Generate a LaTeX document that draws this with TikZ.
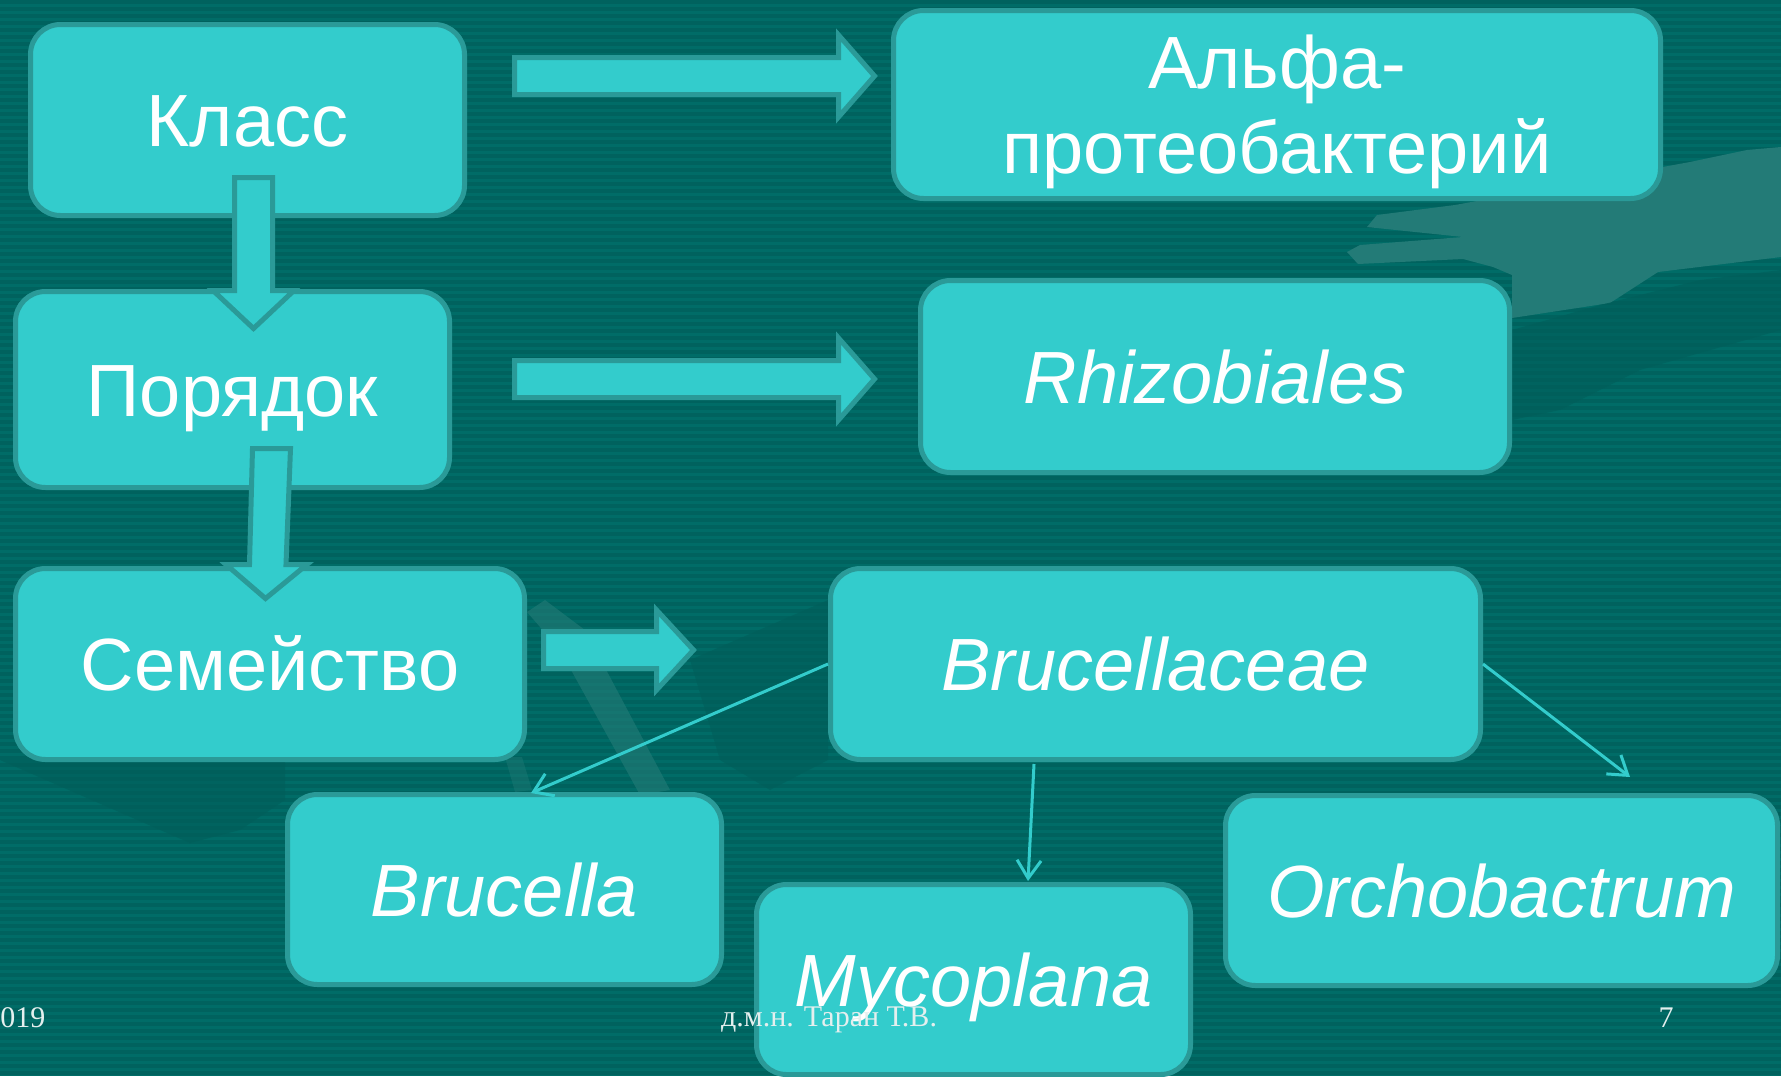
\documentclass[tikz,border=0pt]{standalone}
\usepackage{fontspec}
\setmainfont{Liberation Sans}
\newfontfamily\footfont{Liberation Serif}
\usetikzlibrary{arrows.meta}
\definecolor{bgA}{HTML}{006C67}
\definecolor{bgB}{HTML}{00625E}
\definecolor{bgDark}{HTML}{005E5A}
\definecolor{boxfill}{HTML}{33CCCC}
\definecolor{boxline}{HTML}{2A9A98}
\definecolor{handc}{HTML}{237B77}
\definecolor{foottext}{HTML}{E4EFEE}
\tikzset{
  taxbox/.style={draw=boxline, fill=boxfill, line width=2.5pt, rounded corners=15pt,
    text=white, font=\fontsize{37}{42.5}\selectfont, inner sep=0pt, align=center},
  onel/.style={text height=26.5pt, text depth=0pt},
  blockarrow/.style={draw=boxline, fill=boxfill, line width=2.5pt, line join=miter},
  thinarrow/.style={draw=boxfill, line width=1.5pt, -{Straight Barb[length=9pt,width=12pt]}},
  footer/.style={text=foottext, font=\footfont\fontsize{15}{18}\selectfont, inner sep=0pt}
}
\begin{document}
\begin{tikzpicture}[x=0.5pt,y=-0.5pt]
\useasboundingbox (0,0) rectangle (1781,1076);
% background
\fill[bgA] (0,0) rectangle (1781,1076);
\foreach \i in {0,...,153} \fill[bgB] (0,\i*7) rectangle (1781,\i*7+3.5);
% decorative shapes
\fill[handc] (1367,227) -- (1377,215) -- (1455,205) -- (1690,162) -- (1747,150) -- (1781,147)
  -- (1781,257) -- (1658,272) -- (1610,303) -- (1512,318) -- (1512,275) -- (1493,267)
  -- (1463,259) -- (1358,264) -- (1347,252) -- (1360,245) -- (1463,237) -- cycle;
\fill[bgDark, opacity=0.6] (1512,330) -- (1600,305) -- (1700,280) -- (1781,270) -- (1781,330) -- (1640,370) -- (1560,410) -- (1512,420) -- cycle;
\fill[handc, opacity=0.6] (527,612) -- (545,600) -- (585,630) -- (670,790) -- (640,795) -- (560,650) -- cycle;
\fill[handc, opacity=0.4] (505,757) -- (522,757) -- (532,790) -- (515,792) -- cycle;
\fill[bgDark, opacity=0.6] (0,760) -- (190,843) -- (240,830) -- (285,800) -- (285,762) -- cycle;
\fill[bgDark, opacity=0.6] (690,660) -- (828,600) -- (828,760) -- (770,790) -- (720,760) -- cycle;
% boxes
\node[taxbox, onel, minimum width=217pt, minimum height=95.5pt] (klass) at (247.5,120) {Класс};
\node[taxbox, minimum width=383.5pt, minimum height=94pt, text depth=0pt] (alpha) at (1277,104.5) {Альфа-\\протеобактерий};
\node[taxbox, onel, minimum width=217pt, minimum height=98pt] (order) at (232.5,389.5) {Порядок};
\node[taxbox, onel, minimum width=294.5pt, minimum height=96pt] (rhizo) at (1215,376.5) {\itshape Rhizobiales};
\node[taxbox, onel, minimum width=254.5pt, minimum height=95.5pt] (family) at (270,664) {Семейство};
\node[taxbox, onel, minimum width=325pt, minimum height=95.5pt] (bcae) at (1155.5,664) {\itshape Brucellaceae};
\node[taxbox, onel, minimum width=217pt, minimum height=95pt] (brucella) at (504.5,889.5) {\itshape Brucella};
\node[taxbox, onel, minimum width=217pt, minimum height=95pt] (myco) at (973.5,979.5) {\itshape Mycoplana};
\node[taxbox, onel, minimum width=276pt, minimum height=95pt] (orcho) at (1501.5,890.5) {\itshape Orchobactrum};
% block arrows
\draw[blockarrow] (514.5,57.5) -- (838.5,57.5) -- (838.5,35) -- (874.5,76) -- (838.5,117) -- (838.5,94.5) -- (514.5,94.5) -- cycle;
\draw[blockarrow] (514.5,360.5) -- (838.5,360.5) -- (838.5,338) -- (874.5,379) -- (838.5,420) -- (838.5,397.5) -- (514.5,397.5) -- cycle;
\draw[blockarrow] (543.5,631.5) -- (656.5,631.5) -- (656.5,610) -- (693.5,650) -- (656.5,690) -- (656.5,668.5) -- (543.5,668.5) -- cycle;
\draw[blockarrow] (234.5,177.5) -- (272.5,177.5) -- (272.5,290.5) -- (294,290.5) -- (253.5,328.5) -- (213,290.5) -- (234.5,290.5) -- cycle;
\draw[blockarrow] (252.5,448.5) -- (290.5,448.5) -- (286,564.5) -- (307,564.5) -- (265.5,598.5) -- (226,564.5) -- (249.5,564.5) -- cycle;
% thin arrows
\coordinate (e1) at (531,793);
\coordinate (s2) at (1034,764);
\coordinate (e2) at (1028,881);
\coordinate (e3) at (1630,777);
\draw[thinarrow] (bcae.west) -- (e1);
\draw[thinarrow] (s2) -- (e2);
\draw[thinarrow] (bcae.east) -- (e3);
% footer
\node[footer, anchor=base west] (date) at (0,1027) {019};
\node[footer, anchor=base] (author) at (829,1026) {д.м.н. Таран Т.В.};
\node[footer, anchor=base east] (page) at (1674,1027) {7};
\end{tikzpicture}
\end{document}
